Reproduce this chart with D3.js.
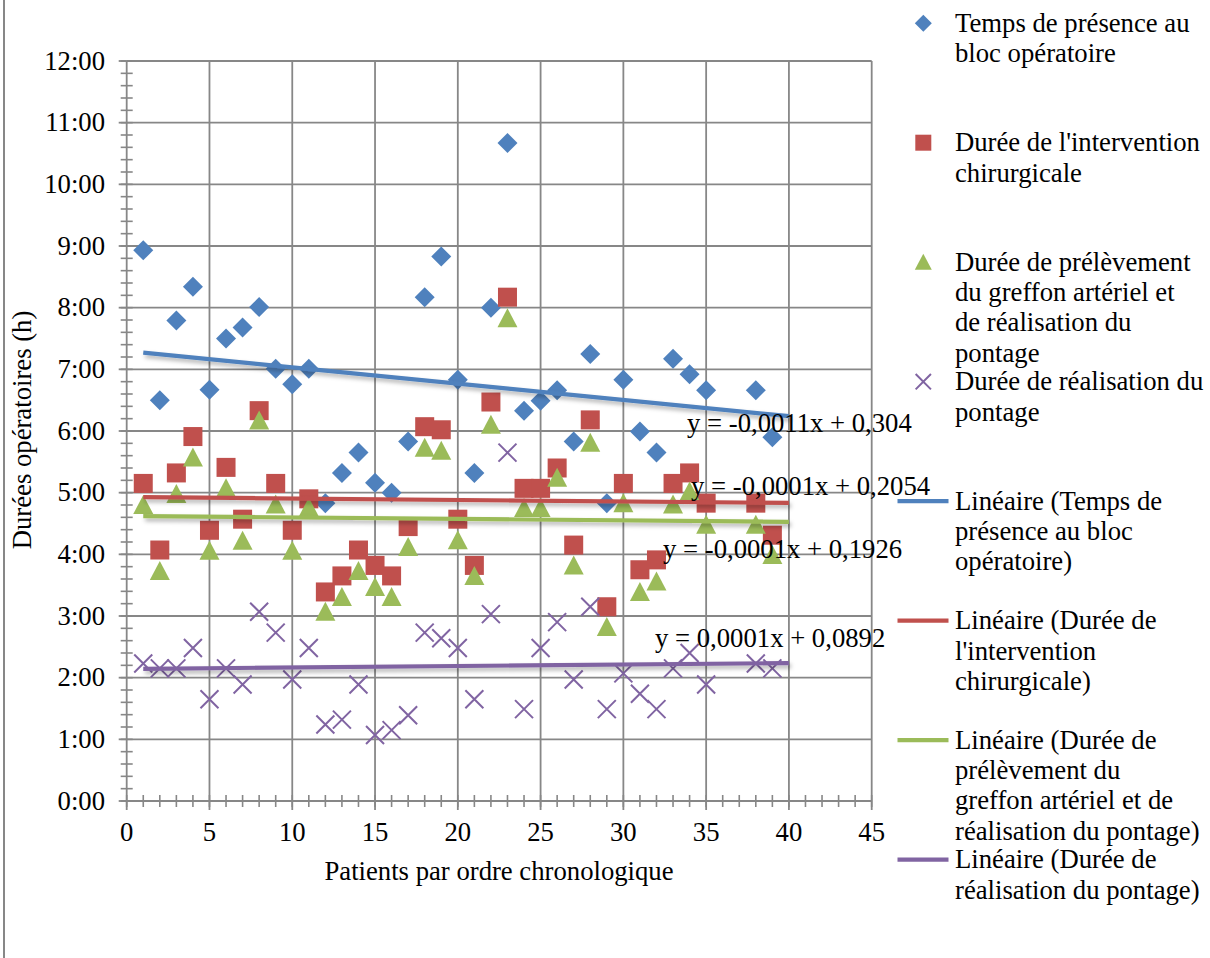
<!DOCTYPE html>
<html><head><meta charset="utf-8">
<script src="https://cdn.jsdelivr.net/npm/d3@7"></script>
<style>
body{margin:0;background:#fff;}
svg{display:block;font-family:"Liberation Serif","Times New Roman",serif;}
</style>
</head><body>
<svg id="chart" width="1210" height="958"></svg>
<script>
// ---- data (hours) ----
const patients = [1,2,3,4,5,6,7,8,9,10,11,12,13,14,15,16,17,18,19,20,21,22,23,24,25,26,27,28,29,30,31,32,33,34,35,38,39];
const presence = [8.93,6.50,7.79,8.34,6.67,7.50,7.68,8.01,7.01,6.76,7.01,4.83,5.32,5.65,5.16,5.00,5.83,8.17,8.83,6.83,5.32,8.00,10.67,6.33,6.49,6.66,5.83,7.25,4.83,6.83,5.99,5.65,7.17,6.92,6.66,6.66,5.90];
const intervention = [5.15,4.07,5.32,5.91,4.39,5.41,4.57,6.33,5.15,4.39,4.90,3.39,3.65,4.07,3.82,3.65,4.45,6.07,6.02,4.57,3.82,6.47,8.17,5.07,5.07,5.40,4.15,6.18,3.15,5.15,3.75,3.91,5.15,5.32,4.83,4.83,4.31];
const prelevement = [4.80,3.73,4.98,5.57,4.06,5.07,4.22,6.17,4.81,4.06,4.76,3.07,3.31,3.73,3.47,3.31,4.12,5.73,5.68,4.23,3.65,6.10,7.83,4.75,4.75,5.24,3.82,5.81,2.82,4.83,3.39,3.56,4.81,5.02,4.48,4.48,3.99];
const pontage = [2.23,2.15,2.15,2.48,1.65,2.15,1.89,3.07,2.73,1.97,2.48,1.24,1.32,1.89,1.07,1.15,1.39,2.73,2.64,2.48,1.65,3.03,5.65,1.49,2.48,2.90,1.97,3.15,1.49,2.07,1.74,1.49,2.15,2.40,1.89,2.23,2.15];

const seriesNames = [
  ["Temps de présence au","bloc opératoire"],
  ["Durée de l'intervention","chirurgicale"],
  ["Durée de prélèvement","du greffon artériel et","de réalisation du","pontage"],
  ["Durée de réalisation du","pontage"]
];
const trendNames = [
  ["Linéaire (Temps de","présence au bloc","opératoire)"],
  ["Linéaire (Durée de","l'intervention","chirurgicale)"],
  ["Linéaire (Durée de","prélèvement du","greffon artériel et de","réalisation du pontage)"],
  ["Linéaire (Durée de","réalisation du pontage)"]
];
// trend equations in Excel day fractions
const trendSlopes = [-0.0011,-0.0001,-0.0001,0.0001];
const trendIntercepts = [0.304,0.2054,0.1926,0.0892];
const trendLabels = ["y = -0,0011x + 0,304","y = -0,0001x + 0,2054","y = -0,0001x + 0,1926","y = 0,0001x + 0,0892"];
const trendRange = [1,40];
const xTicks = [0,5,10,15,20,25,30,35,40,45];
const yTicks = [0,1,2,3,4,5,6,7,8,9,10,11,12];
const yTickLabels = ["0:00","1:00","2:00","3:00","4:00","5:00","6:00","7:00","8:00","9:00","10:00","11:00","12:00"];

const colors = ["#4F81BD","#C0504D","#9BBB59","#8064A2"];
const shapes = ["diamond","square","triangle","cross"];
const allSeries = [presence,intervention,prelevement,pontage];
const FS = 26.7;

const svg = d3.select("#chart");
const defs = svg.append("defs");
const f = defs.append("filter").attr("id","shadow").attr("x","-5%").attr("y","-200%").attr("width","110%").attr("height","500%");
f.append("feDropShadow").attr("dx",2).attr("dy",3).attr("stdDeviation",2.2).attr("flood-color","#000").attr("flood-opacity",0.3);

// frame left border
svg.append("rect").attr("x",3).attr("y",0).attr("width",2).attr("height",958).attr("fill","#878787");

const x = d3.scaleLinear().domain([0,45]).range([126.7,871.7]);
const y = d3.scaleLinear().domain([0,12]).range([801,61]);
const gridColor = "#878787";

// gridlines
svg.append("g").selectAll("line").data(yTicks.slice(1)).join("line")
  .attr("x1",x(0)).attr("x2",x(45)).attr("y1",d=>y(d)).attr("y2",d=>y(d))
  .attr("stroke",gridColor).attr("stroke-width",1.8);
svg.append("g").selectAll("line").data(xTicks.slice(1)).join("line")
  .attr("x1",d=>x(d)).attr("x2",d=>x(d)).attr("y1",y(0)).attr("y2",y(12))
  .attr("stroke",gridColor).attr("stroke-width",1.8);

// axes
const minorY = d3.range(0,12.0001,0.2);
svg.append("g").selectAll("line").data(minorY).join("line")
  .attr("x1",x(0)-6).attr("x2",x(0)+6).attr("y1",d=>y(d)).attr("y2",d=>y(d))
  .attr("stroke",gridColor).attr("stroke-width",1.6);
svg.append("g").selectAll("line").data(yTicks).join("line")
  .attr("x1",x(0)-8).attr("x2",x(0)).attr("y1",d=>y(d)).attr("y2",d=>y(d))
  .attr("stroke",gridColor).attr("stroke-width",1.8);
const minorX = d3.range(0,46,1);
svg.append("g").selectAll("line").data(minorX).join("line")
  .attr("x1",d=>x(d)).attr("x2",d=>x(d)).attr("y1",y(0)-6).attr("y2",y(0)+6)
  .attr("stroke",gridColor).attr("stroke-width",1.6);
svg.append("g").selectAll("line").data(xTicks).join("line")
  .attr("x1",d=>x(d)).attr("x2",d=>x(d)).attr("y1",y(0)).attr("y2",y(0)+9)
  .attr("stroke",gridColor).attr("stroke-width",1.8);
svg.append("line").attr("x1",x(0)).attr("x2",x(0)).attr("y1",y(0)).attr("y2",y(12)).attr("stroke",gridColor).attr("stroke-width",1.8);
svg.append("line").attr("x1",x(0)).attr("x2",x(45)).attr("y1",y(0)).attr("y2",y(0)).attr("stroke",gridColor).attr("stroke-width",1.8);

// tick labels
svg.append("g").selectAll("text").data(yTicks).join("text")
  .attr("x",105).attr("y",d=>y(d)+8.5).attr("text-anchor","end")
  .attr("font-size",FS).attr("fill","#000").text((d,i)=>yTickLabels[i]);
svg.append("g").selectAll("text").data(xTicks).join("text")
  .attr("x",d=>x(d)).attr("y",841).attr("text-anchor","middle")
  .attr("font-size",FS).attr("fill","#000").text(d=>d);

// axis titles
svg.append("text").attr("x",499).attr("y",880).attr("text-anchor","middle").attr("font-size",FS)
  .text("Patients par ordre chronologique");
svg.append("text").attr("transform","translate(31,430) rotate(-90)").attr("text-anchor","middle").attr("font-size",FS)
  .text("Durées opératoires (h)");

// marker drawing
function marker(g, shape, color, s){
  if(shape==="diamond"){
    g.append("path").attr("d",`M0,${-s}L${s},0L0,${s}L${-s},0Z`).attr("fill",color);
  } else if(shape==="square"){
    g.append("rect").attr("x",-s+0.5).attr("y",-s+0.5).attr("width",2*s-1).attr("height",2*s-1).attr("fill",color);
  } else if(shape==="triangle"){
    g.append("path").attr("d",`M0,${-s}L${s},${s*0.9}L${-s},${s*0.9}Z`).attr("fill",color);
  } else {
    const c = s*0.9;
    g.append("path").attr("d",`M${-c},${-c}L${c},${c}M${-c},${c}L${c},${-c}`).attr("stroke",color).attr("stroke-width",2).attr("fill","none");
  }
}

allSeries.forEach((vals,si)=>{
  const g = svg.append("g");
  patients.forEach((p,i)=>{
    const mg = g.append("g").attr("transform",`translate(${x(p)},${y(vals[i])})`);
    marker(mg, shapes[si], colors[si], 10);
  });
});

// trend lines
trendSlopes.forEach((m,i)=>{
  const b = trendIntercepts[i];
  const line = d3.line().x(d=>x(d)).y(d=>y(24*(m*d+b)));
  svg.append("path").attr("d",line(trendRange)).attr("stroke",colors[i]).attr("stroke-width",4.2)
    .attr("fill","none").attr("filter","url(#shadow)");
});

// trend labels
const labelPos = [[687,432],[691,495],[663,558],[655,647]];
trendLabels.forEach((t,i)=>{
  svg.append("text").attr("x",labelPos[i][0]).attr("y",labelPos[i][1]).attr("font-size",FS).text(t);
});

// legend
const legendItems = seriesNames.map((n,i)=>({lines:n,type:"marker",i}))
  .concat(trendNames.map((n,i)=>({lines:n,type:"line",i})));
legendItems.forEach((it,k)=>{
  const base = 31.7 + k*119.5;
  const g = svg.append("g");
  if(it.type==="marker"){
    const mg = g.append("g").attr("transform",`translate(923.3,${base-8.5})`);
    marker(mg, shapes[it.i], colors[it.i], 8.5);
  } else {
    g.append("line").attr("x1",897.5).attr("x2",948.5).attr("y1",base-8.5).attr("y2",base-8.5)
      .attr("stroke",colors[it.i]).attr("stroke-width",4.2);
  }
  const t = g.append("text").attr("x",955).attr("y",base).attr("font-size",FS);
  it.lines.forEach((l,j)=>{
    t.append("tspan").attr("x",955).attr("y",base + j*30.3).text(l);
  });
});
</script>
</body></html>
